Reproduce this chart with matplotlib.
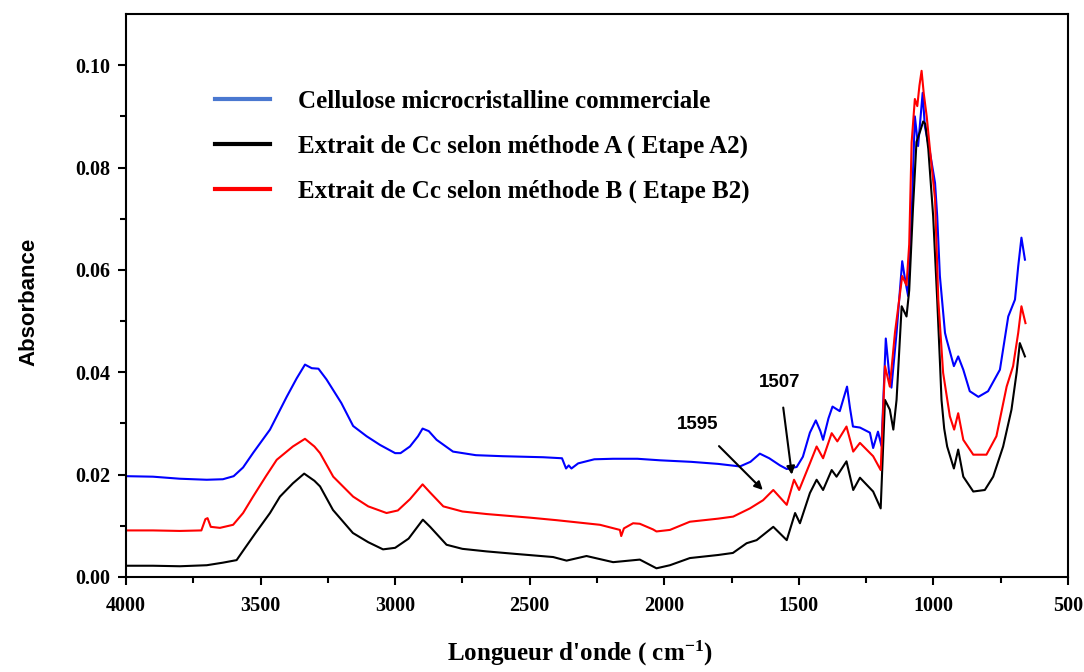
import matplotlib
matplotlib.use("Agg")
import matplotlib.pyplot as plt
from matplotlib.lines import Line2D

plt.rcParams['mathtext.fontset'] = 'custom'
plt.rcParams['mathtext.rm'] = 'Liberation Serif:bold'
plt.rcParams['mathtext.bf'] = 'Liberation Serif:bold'
plt.rcParams['mathtext.it'] = 'Liberation Serif:bold'

# ---- Data ----
blue_wn = [4000, 3900, 3800, 3700, 3640, 3600, 3565, 3527, 3465, 3403, 3366, 3335, 3310, 3285,
           3255, 3200, 3156, 3106, 3056, 3000, 2980, 2945, 2915, 2898, 2875, 2846, 2785, 2700,
           2600, 2450, 2380, 2365, 2355, 2345, 2320, 2260, 2190, 2100, 2016, 1900, 1800, 1719,
           1680, 1645, 1610, 1570, 1545, 1508, 1485, 1459, 1437, 1420, 1410, 1390, 1375, 1348,
           1321, 1310, 1299, 1273, 1236, 1224, 1206, 1193, 1177, 1165, 1156, 1137, 1116, 1105,
           1094, 1081, 1069, 1057, 1040, 1032, 1013, 994, 986, 976, 957, 951, 924, 908, 889,
           865, 833, 797, 753, 722, 697, 685, 673, 660]
blue_ab = [0.0197, 0.0196, 0.0192, 0.0190, 0.0191, 0.0197, 0.0214, 0.0243, 0.0288, 0.0352, 0.0388,
           0.0415, 0.0408, 0.0407, 0.0386, 0.0340, 0.0295, 0.0275, 0.0258, 0.0242, 0.0242, 0.0255,
           0.0275, 0.0290, 0.0285, 0.0268, 0.0245, 0.0238, 0.0236, 0.0234, 0.0232, 0.0212, 0.0218,
           0.0212, 0.0222, 0.0230, 0.0231, 0.0231, 0.0228, 0.0225, 0.0221, 0.0216, 0.0225, 0.0241,
           0.0232, 0.0218, 0.0211, 0.0215, 0.0235, 0.0282, 0.0306, 0.0285, 0.0268, 0.0310, 0.0333,
           0.0324, 0.0372, 0.0330, 0.0294, 0.0292, 0.0282, 0.0252, 0.0284, 0.0256, 0.0466, 0.0400,
           0.0370, 0.0477, 0.0617, 0.0580, 0.0549, 0.0705, 0.0900, 0.0842, 0.0946, 0.0881, 0.0830,
           0.0770, 0.0705, 0.0588, 0.0477, 0.0464, 0.0412, 0.0431, 0.0405, 0.0363, 0.0352, 0.0363,
           0.0405, 0.0509, 0.0542, 0.0607, 0.0663, 0.0620]

black_wn = [4000, 3900, 3800, 3700, 3640, 3589, 3560, 3520, 3465, 3428, 3380, 3338, 3300, 3279,
            3231, 3157, 3100, 3045, 3000, 2950, 2897, 2870, 2809, 2750, 2660, 2550, 2413, 2363,
            2289, 2190, 2091, 2029, 1979, 1905, 1800, 1745, 1694, 1657, 1595, 1545, 1514, 1496,
            1459, 1434, 1410, 1378, 1360, 1323, 1298, 1273, 1224, 1196, 1180, 1162, 1149, 1137,
            1118, 1100, 1090, 1076, 1063, 1050, 1038, 1030, 1019, 1001, 986, 975, 970, 960, 949,
            924, 908, 889, 852, 809, 778, 741, 710, 691, 679, 660]
black_ab = [0.0022, 0.0022, 0.0021, 0.0023, 0.0028, 0.0033, 0.0055, 0.0085, 0.0125, 0.0157, 0.0183,
            0.0202, 0.0188, 0.0177, 0.0131, 0.0086, 0.0068, 0.0054, 0.0057, 0.0075, 0.0112, 0.0098,
            0.0063, 0.0055, 0.0050, 0.0045, 0.0039, 0.0032, 0.0041, 0.0029, 0.0034, 0.0017, 0.0023,
            0.0037, 0.0043, 0.0047, 0.0066, 0.0072, 0.0098, 0.0072, 0.0125, 0.0105, 0.0164, 0.0190,
            0.0170, 0.0209, 0.0196, 0.0226, 0.0170, 0.0194, 0.0167, 0.0134, 0.0346, 0.0327, 0.0288,
            0.0346, 0.0529, 0.0509, 0.0560, 0.0720, 0.0850, 0.0870, 0.0890, 0.0885, 0.0836, 0.0705,
            0.0542, 0.0410, 0.0346, 0.0290, 0.0255, 0.0212, 0.0249, 0.0196, 0.0167, 0.0170, 0.0196,
            0.0255, 0.0327, 0.0399, 0.0457, 0.0431]

red_wn = [4000, 3900, 3800, 3720, 3705, 3697, 3685, 3651, 3602, 3565, 3528, 3480, 3440, 3380,
          3335, 3300, 3279, 3230, 3156, 3100, 3032, 2990, 2945, 2898, 2870, 2821, 2750, 2660,
          2500, 2400, 2239, 2165, 2160, 2150, 2116, 2091, 2042, 2029, 1979, 1905, 1800, 1744,
          1682, 1633, 1595, 1545, 1518, 1499, 1459, 1434, 1410, 1378, 1357, 1323, 1298, 1273,
          1224, 1196, 1180, 1162, 1143, 1116, 1100, 1090, 1081, 1069, 1060, 1052, 1044, 1036,
          1025, 1013, 994, 982, 964, 939, 923, 908, 889, 852, 803, 766, 728, 704, 685, 673, 658]
red_ab = [0.0091, 0.0091, 0.0090, 0.0091, 0.0113, 0.0115, 0.0098, 0.0096, 0.0102, 0.0125, 0.0157,
          0.0197, 0.0229, 0.0255, 0.0270, 0.0255, 0.0242, 0.0196, 0.0157, 0.0138, 0.0125, 0.0130,
          0.0152, 0.0181, 0.0165, 0.0138, 0.0128, 0.0123, 0.0116, 0.0111, 0.0102, 0.0092, 0.0080,
          0.0095, 0.0105, 0.0104, 0.0093, 0.0089, 0.0092, 0.0108, 0.0114, 0.0118, 0.0134, 0.0150,
          0.0170, 0.0141, 0.0190, 0.0170, 0.0222, 0.0255, 0.0232, 0.0281, 0.0265, 0.0294, 0.0245,
          0.0262, 0.0236, 0.0209, 0.0412, 0.0372, 0.0477, 0.0588, 0.0570, 0.0650, 0.0849, 0.0934,
          0.0920, 0.0960, 0.0989, 0.0945, 0.0900, 0.0836, 0.0738, 0.0542, 0.0399, 0.0314, 0.0288,
          0.0320, 0.0268, 0.0239, 0.0239, 0.0275, 0.0372, 0.0412, 0.0477, 0.0529, 0.0496]

labels = ["Cellulose microcristalline commerciale",
          "Extrait de Cc selon méthode A ( Etape A2)",
          "Extrait de Cc selon méthode B ( Etape B2)"]
x_ticks = [4000, 3500, 3000, 2500, 2000, 1500, 1000, 500]
y_ticks = [0.00, 0.02, 0.04, 0.06, 0.08, 0.10]

# ---- Figure ----
fig = plt.figure(figsize=(10.84, 6.72), dpi=100)
ax = fig.add_axes([126/1084, 1-577/672, (1068-126)/1084, (577-14)/672])

ax.plot(blue_wn, blue_ab, color='#0000ff', lw=1.5)
ax.plot(black_wn, black_ab, color='black', lw=1.5)
ax.plot(red_wn, red_ab, color='#ff0000', lw=1.5)

ax.set_xlim(4000, 500)
ax.set_ylim(0, 0.11)
ax.set_xticks(x_ticks)
ax.set_xticks(range(3750, 500, -500), minor=True)
ax.set_yticks(y_ticks)
ax.set_yticks([0.01, 0.03, 0.05, 0.07, 0.09], minor=True)
ax.set_yticklabels([f"{v:.2f}" for v in y_ticks])
ax.set_xticklabels([str(v) for v in x_ticks])
ax.tick_params(which='both', direction='out', width=1.5, top=False, right=False)
ax.tick_params(which='major', length=6)
ax.tick_params(which='minor', length=4)
ax.tick_params(axis='x', pad=8)
ax.tick_params(axis='y', pad=5)
for lab in ax.get_xticklabels() + ax.get_yticklabels():
    lab.set_fontfamily('Liberation Serif')
    lab.set_fontweight('bold')
    lab.set_fontsize(14.5)
for s in ax.spines.values():
    s.set_linewidth(1.5)

ax.set_ylabel("Absorbance", fontfamily='Liberation Sans', fontweight='bold', fontsize=16, labelpad=26)
ax.set_xlabel("Longueur d'onde ( cm$^{-1}$)", fontfamily='Liberation Serif', fontweight='bold',
              fontsize=18, labelpad=16)
ax.xaxis.label.set_x(0.482)
ax.yaxis.label.set_y(0.488)

handles = [Line2D([], [], color='#4a78d0', lw=3),
           Line2D([], [], color='black', lw=3),
           Line2D([], [], color='#ff0000', lw=3)]
ax.legend(handles, labels, loc='upper left', bbox_to_anchor=(0.0706, 0.905), frameon=False,
          prop={'family': 'Liberation Serif', 'weight': 'bold', 'size': 18},
          handlelength=2.2, handletextpad=1.1, labelspacing=0.87)

ann_font = dict(fontfamily='Liberation Sans', fontweight='bold', fontsize=13.5)
ax.annotate("1595", xy=(1634, 0.0170), xytext=(1875, 0.0297), ha='center', va='center',
            arrowprops=dict(arrowstyle='-|>', color='black', lw=1.5, shrinkA=10, shrinkB=0,
                            mutation_scale=12), **ann_font)
ax.annotate("1507", xy=(1526, 0.0200), xytext=(1570, 0.0380), ha='center', va='center',
            arrowprops=dict(arrowstyle='-|>', color='black', lw=1.5, shrinkA=10, shrinkB=0,
                            mutation_scale=12), **ann_font)

fig.savefig("out.png", dpi=100)
